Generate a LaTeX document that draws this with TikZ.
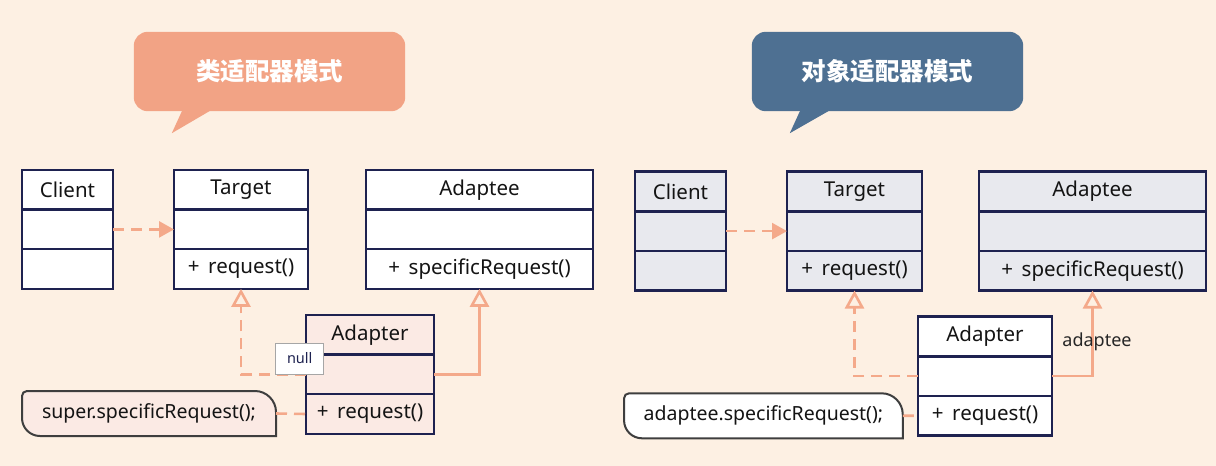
\documentclass[tikz,border=0pt]{standalone}
\usepackage{fontspec}
\setmainfont{Noto Sans}
\newfontfamily\cjk{Noto Sans CJK SC}
\usepackage{tikz}
\usetikzlibrary{arrows.meta,positioning,calc}
\definecolor{bgpeach}{HTML}{FDF0E3}
\definecolor{navy}{HTML}{1E2250}
\definecolor{salmon}{HTML}{F4A98A}
\definecolor{salmonfill}{HTML}{F2A385}
\definecolor{steel}{HTML}{4E7092}
\definecolor{pinkfill}{HTML}{FBEAE4}
\definecolor{grayfill}{HTML}{E8E9EE}
\definecolor{noteline}{HTML}{3E3E3E}
\pgfdeclarelayer{background}
\pgfsetlayers{background,main}

% one UML class: id, fill, north west corner, width, name, method
\newcommand{\umlclass}[6]{%
    \node[classrow, fill=#2, minimum width=#4, anchor=north west] (#1-name) at (#3) {#5};
    \node[classrow, fill=#2, minimum width=#4, below=0pt of #1-name] (#1-attr) {};
    \node[classrow, fill=#2, minimum width=#4, below=0pt of #1-attr] (#1-ops) {#6};
}

% note outline: top right and bottom left rounded, top left slightly, bottom right sharp
\newcommand{\noteshape}[2]{%
    \draw[notebox, fill=#2] (#1.south east)
        -- ($(#1.north east)+(0,21)$) .. controls ($(#1.north east)+(0,9.5)$) and ($(#1.north east)+(-9.5,0)$) .. ($(#1.north east)+(-21,0)$)
        -- ($(#1.north west)+(5,0)$) .. controls ($(#1.north west)+(2.2,0)$) and ($(#1.north west)+(0,2.2)$) .. ($(#1.north west)+(0,5)$)
        -- ($(#1.south west)+(0,-18)$) .. controls ($(#1.south west)+(0,-8)$) and ($(#1.south west)+(8,0)$) .. ($(#1.south west)+(18,0)$)
        -- cycle;
}

\begin{document}
\begin{tikzpicture}[x=1pt, y=-1pt,
    classrow/.style={draw=navy, line width=2.5pt, minimum height=39.6pt, inner sep=0pt, outer sep=0pt, text=black!92, font=\fontsize{20.5}{24}\selectfont},
    title/.style={minimum width=271pt, minimum height=79pt, inner sep=0pt, text=white, font=\cjk\bfseries\fontsize{24.5}{28}\selectfont},
    notetext/.style={minimum height=45pt, inner sep=0pt, outer sep=0pt, text=black!92, font=\fontsize{19.5}{23}\selectfont},
    notebox/.style={draw=noteline, line width=2pt},
    usage/.style={salmon, line width=2.6pt, dash pattern=on 11pt off 7pt, -{Triangle[length=15pt, width=16pt]}},
    realize/.style={salmon, line width=2.6pt, -{Triangle[open, length=18pt, width=19pt]}},
    notelink/.style={salmon, line width=2.6pt, dash pattern=on 11pt off 7pt}]

    % Titles
    \node[title] (title1) at (269.5,71.5) {类适配器模式};
    \node[title] (title2) at (887.5,71.5) {对象适配器模式};

    % Class adapter
    \umlclass{client}{white}{22,170}{91pt}{Client}{}
    \umlclass{target}{white}{174,170}{134pt}{Target}{+ \,request()}
    \umlclass{adaptee}{white}{366,170}{227pt}{Adaptee}{+ \,specificRequest()}
    \umlclass{adapter}{pinkfill}{306,315}{128pt}{Adapter}{+ \,request()}
    \node[notetext, minimum width=254pt] (note1) at (149,413.5) {super.specificRequest();};

    % Object adapter
    \umlclass{oclient}{grayfill}{635,171.7}{91pt}{Client}{}
    \umlclass{otarget}{grayfill}{787,171.7}{135pt}{Target}{+ \,request()}
    \umlclass{oadaptee}{grayfill}{979,171.7}{227pt}{Adaptee}{+ \,specificRequest()}
    \umlclass{oadapter}{white}{918,316.7}{134pt}{Adapter}{+ \,request()}
    \node[notetext, minimum width=278.7pt] (note2) at (763.4,415.8) {adaptee.specificRequest();};

    % Connectors
    \draw[usage] (client-attr) -- (target-attr);
    \draw[realize, dash pattern=on 11pt off 7pt] (adapter-attr.west) -| (target-ops.south);
    \draw[realize] (adapter-attr.east) -| (adaptee-ops.south);
    \draw[notelink] (note1.east) -- (adapter-ops.west);
    \draw[usage] (oclient-attr) -- (otarget-attr);
    \draw[realize, dash pattern=on 11pt off 7pt] (oadapter-attr.west) -| (otarget-ops.south);
    \draw[realize] (oadapter-attr.east) -| (oadaptee-ops.south);
    \draw[notelink] (note2.east) -- (oadapter-ops.west);

    % Labels
    \node[draw=gray!70, line width=0.6pt, fill=white, minimum width=48pt, minimum height=31pt, inner sep=0pt, text=navy, font=\fontsize{14.5}{16}\selectfont] (null) at (299.7,358.5) {null};
    \node[text=black!85, font=\fontsize{18}{20}\selectfont] (assoc) at (1097,342) {adaptee};

    % Backgrounds, callouts and note shapes
    \begin{pgfonlayer}{background}
        \fill[bgpeach] (0,0) rectangle (1216,466);
        \fill[salmonfill, rounded corners=14pt] (title1.south west) rectangle (title1.north east);
        \fill[salmonfill] ([xshift=49pt, yshift=2pt]title1.south west) -- ([xshift=38pt, yshift=-22pt]title1.south west) -- ([xshift=79pt, yshift=2pt]title1.south west) -- cycle;
        \fill[steel, rounded corners=14pt] (title2.south west) rectangle (title2.north east);
        \fill[steel] ([xshift=49pt, yshift=2pt]title2.south west) -- ([xshift=38pt, yshift=-22pt]title2.south west) -- ([xshift=80pt, yshift=2pt]title2.south west) -- cycle;
        \noteshape{note1}{pinkfill}
        \noteshape{note2}{white}
    \end{pgfonlayer}

\end{tikzpicture}
\end{document}
